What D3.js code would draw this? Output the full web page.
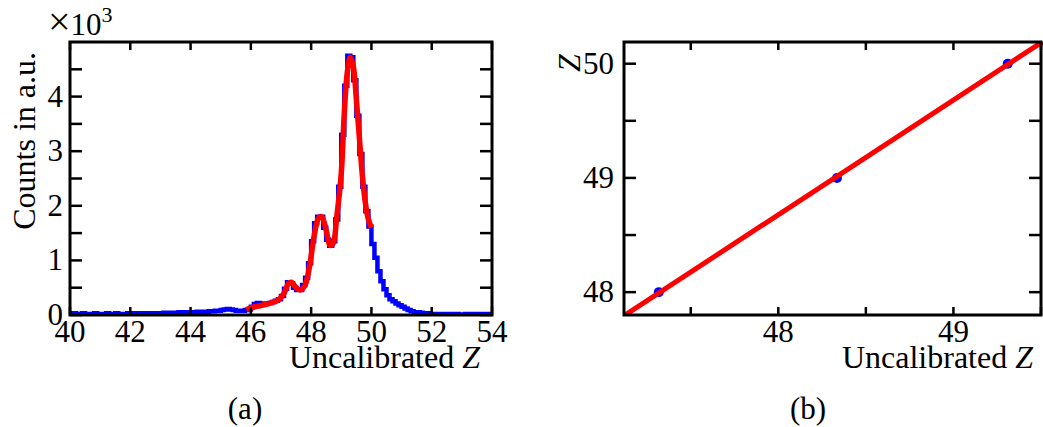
<!DOCTYPE html>
<html>
<head>
<meta charset="utf-8">
<script src="https://cdn.jsdelivr.net/npm/d3@7/dist/d3.min.js"></script>
<style>
  html, body { margin: 0; padding: 0; background: #fff; }
  svg text { font-family: "Liberation Serif", "Times New Roman", serif; fill: #000; }
</style>
</head>
<body>
<svg id="fig" width="1043" height="427"></svg>
<script>
// ---- Panel (a): spectrum of uncalibrated Z ----
const binStart = 40.0;
const binWidth = 0.1;
// counts per 0.1-wide bin, 40.0 ... 54.0
const histCounts = [
  20, 30, 20, 20, 30, 20, 20, 20, 30, 20,
  20, 20, 30, 20, 20, 30, 20, 20, 20, 30,
  20, 30, 20, 30, 30, 20, 30, 30, 30, 30,
  30, 40, 30, 40, 40, 40, 50, 40, 50, 50,
  50, 50, 60, 50, 60, 60, 70, 70, 80, 80,
  90, 100, 110, 100, 90, 80, 80, 80, 90, 100,
  150, 200, 220, 210, 200, 210, 220, 240, 260, 290,
  350, 480, 600, 580, 500, 460, 460, 550, 680, 950,
  1350, 1680, 1800, 1800, 1600, 1380, 1270, 1350, 1750, 2350,
  3300, 4200, 4750, 4720, 4300, 3650, 2950, 2350, 1900, 1620,
  1300, 1050, 800, 620, 470, 360, 290, 250, 210, 180,
  150, 120, 90, 70, 50, 50, 40, 30, 30, 20,
  20, 20, 20, 10, 20, 20, 10, 20, 20, 10,
  10, 20, 20, 10, 20, 20, 10, 20, 10, 20
];
// fitted curve, sampled
const fitZ = [45.85, 46.0, 46.3, 46.6, 46.9, 47.1, 47.25, 47.35, 47.5, 47.65, 47.8, 47.95,
              48.1, 48.25, 48.35, 48.5, 48.62, 48.72, 48.85, 49.0, 49.1, 49.2, 49.3, 49.4,
              49.5, 49.6, 49.7, 49.8, 49.9, 50.0];
const fitCounts = [100, 130, 170, 210, 270, 400, 580, 600, 500, 460, 550, 900,
                   1450, 1780, 1800, 1550, 1280, 1300, 1800, 2600, 3700, 4450, 4720, 4550,
                   3950, 3250, 2550, 2050, 1750, 1600];
const aXTicks = [40, 42, 44, 46, 48, 50, 52, 54];
const aYTicks = [0, 1000, 2000, 3000, 4000];
const aYMinor = [500, 1500, 2500, 3500, 4500];

// ---- Panel (b): calibration ----
const uncalZ = [47.318, 48.335, 49.31];
const trueZ = [48, 49, 50];
const bXTicks = [48, 49];
const bXMinor = [47.5, 48.5, 49.5];
const bYTicks = [48, 49, 50];
const bYMinor = [48.5, 49.5];

const svg = d3.select("#fig");
const BLUE = "#0000ff", RED = "#ff0000";
const FRAME_W = 3, TICK_W = 2.5;
const TICK_FS = 31, TITLE_FS = 32;

function frame(g, x0, y0, x1, y1) {
  g.append("rect").attr("x", x0).attr("y", y0)
    .attr("width", x1 - x0).attr("height", y1 - y0)
    .attr("fill", "none").attr("stroke", "#000").attr("stroke-width", FRAME_W);
}
function xTicks(g, scale, vals, y0, y1, len) {
  vals.forEach(v => {
    const x = scale(v);
    g.append("line").attr("x1", x).attr("x2", x).attr("y1", y1).attr("y2", y1 - len)
      .attr("stroke", "#000").attr("stroke-width", TICK_W);
    g.append("line").attr("x1", x).attr("x2", x).attr("y1", y0).attr("y2", y0 + len)
      .attr("stroke", "#000").attr("stroke-width", TICK_W);
  });
}
function yTicks(g, scale, vals, x0, x1, len) {
  vals.forEach(v => {
    const y = scale(v);
    g.append("line").attr("x1", x0).attr("x2", x0 + len).attr("y1", y).attr("y2", y)
      .attr("stroke", "#000").attr("stroke-width", TICK_W);
    g.append("line").attr("x1", x1).attr("x2", x1 - len).attr("y1", y).attr("y2", y)
      .attr("stroke", "#000").attr("stroke-width", TICK_W);
  });
}

// ===== Panel (a) =====
{
  const L = 70, R = 492, T = 42, B = 315;
  const x = d3.scaleLinear().domain([40, 54]).range([L, R]);
  const y = d3.scaleLinear().domain([0, 5000]).range([B, T]);
  const g = svg.append("g");

  g.append("clipPath").attr("id", "clipA").append("rect")
    .attr("x", L).attr("y", T - 2).attr("width", R - L).attr("height", B - T + 2);

  const edges = histCounts.map((c, i) => ({ z: binStart + i * binWidth, c }));
  edges.push({ z: binStart + histCounts.length * binWidth, c: histCounts[histCounts.length - 1] });
  const step = d3.line().x(d => x(d.z)).y(d => y(d.c)).curve(d3.curveStepAfter);
  g.append("path").datum(edges).attr("d", step)
    .attr("fill", "none").attr("stroke", BLUE).attr("stroke-width", 4.5)
    .attr("clip-path", "url(#clipA)");

  const fit = fitZ.map((z, i) => ({ z, c: fitCounts[i] }));
  const smooth = d3.line().x(d => x(d.z)).y(d => y(d.c)).curve(d3.curveCatmullRom.alpha(0.5));
  g.append("path").datum(fit).attr("d", smooth)
    .attr("fill", "none").attr("stroke", RED).attr("stroke-width", 5.5)
    .attr("stroke-linejoin", "round");

  xTicks(g, x, aXTicks, T, B, 8);
  yTicks(g, y, aYTicks.concat(aYMinor), L, R, 12);
  frame(g, L, T, R, B);

  aXTicks.forEach(v => {
    g.append("text").attr("x", x(v)).attr("y", 342).attr("text-anchor", "middle")
      .attr("font-size", TICK_FS).text(d3.format("d")(v));
  });
  aYTicks.forEach(v => {
    g.append("text").attr("x", 63).attr("y", y(v) + 10).attr("text-anchor", "end")
      .attr("font-size", TICK_FS).text(v / 1000);
  });
  // axis multiplier  ×10^3
  const mult = g.append("text").attr("x", 48).attr("y", 35).attr("font-size", TICK_FS);
  mult.append("tspan").attr("font-size", 40).text("\u00d7");
  mult.append("tspan").text("10");
  mult.append("tspan").attr("dy", -13).attr("font-size", 22).text("3");

  const xt = g.append("text").attr("x", 480).attr("y", 368).attr("text-anchor", "end").attr("font-size", TITLE_FS);
  xt.append("tspan").text("Uncalibrated ");
  xt.append("tspan").attr("font-style", "italic").text("Z");

  g.append("text").attr("transform", "translate(35,52) rotate(-90)")
    .attr("text-anchor", "end").attr("font-size", TITLE_FS).text("Counts in a.u.");

  g.append("text").attr("x", 245).attr("y", 419).attr("text-anchor", "middle")
    .attr("font-size", TICK_FS).text("(a)");
}

// ===== Panel (b) =====
{
  const L = 624, R = 1041, T = 42, B = 315;
  const x = d3.scaleLinear().domain([47.119, 49.5]).range([L, R]);
  const y = d3.scaleLinear().domain([47.8, 50.19]).range([B, T]);
  const g = svg.append("g");

  g.append("clipPath").attr("id", "clipB").append("rect")
    .attr("x", L).attr("y", T).attr("width", R - L + 4).attr("height", B - T);

  // linear calibration fitted to the three reference points
  const mx = d3.mean(uncalZ), my = d3.mean(trueZ);
  const slope = d3.sum(uncalZ, (u, i) => (u - mx) * (trueZ[i] - my)) /
                d3.sum(uncalZ, u => (u - mx) * (u - mx));
  const icpt = my - slope * mx;
  const [d0, d1] = x.domain();
  const lineData = [d0 - 0.05, d1 + 0.05].map(u => ({ u, z: icpt + slope * u }));

  g.selectAll("circle.pt").data(uncalZ).enter().append("circle")
    .attr("class", "pt").attr("cx", d => x(d)).attr("cy", (d, i) => y(trueZ[i]))
    .attr("r", 5).attr("fill", BLUE);

  g.append("path").datum(lineData)
    .attr("d", d3.line().x(d => x(d.u)).y(d => y(d.z)))
    .attr("fill", "none").attr("stroke", RED).attr("stroke-width", 5)
    .attr("clip-path", "url(#clipB)");

  xTicks(g, x, bXTicks.concat(bXMinor), T, B, 8);
  yTicks(g, y, bYTicks.concat(bYMinor), L, R, 12);
  frame(g, L, T, R, B);

  bXTicks.forEach(v => {
    g.append("text").attr("x", x(v)).attr("y", 342).attr("text-anchor", "middle")
      .attr("font-size", TICK_FS).text(v);
  });
  bYTicks.forEach(v => {
    g.append("text").attr("x", 614).attr("y", y(v) + 10).attr("text-anchor", "end")
      .attr("font-size", TICK_FS).text(v);
  });

  const xt = g.append("text").attr("x", 1033).attr("y", 368).attr("text-anchor", "end").attr("font-size", TITLE_FS);
  xt.append("tspan").text("Uncalibrated ");
  xt.append("tspan").attr("font-style", "italic").text("Z");

  g.append("text").attr("transform", "translate(580,63) rotate(-90)")
    .attr("text-anchor", "middle").attr("font-size", TITLE_FS)
    .attr("font-style", "italic").text("Z");

  g.append("text").attr("x", 808).attr("y", 419).attr("text-anchor", "middle")
    .attr("font-size", TICK_FS).text("(b)");
}
</script>
</body>
</html>
